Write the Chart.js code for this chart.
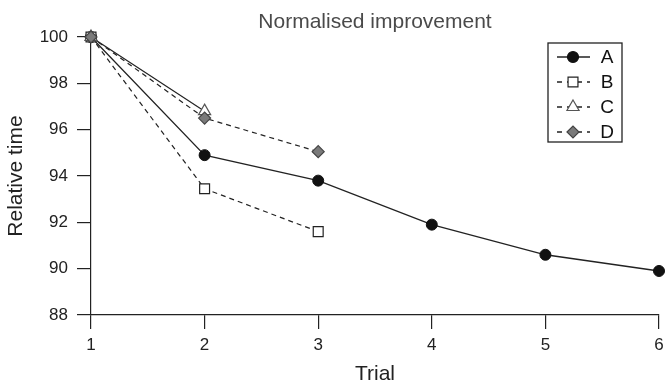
<!DOCTYPE html>
<html>
<head>
<meta charset="utf-8">
<script src="https://cdn.jsdelivr.net/npm/chart.js@4.4.0/dist/chart.umd.min.js"></script>
<style>
  body { margin: 0; background: #fff; }
  #wrap { width: 665px; height: 385px; }
</style>
</head>
<body>
<div id="wrap"><canvas id="myChart"></canvas></div>
<script>
const chartTitle = 'Normalised improvement';
const trials = [1, 2, 3, 4, 5, 6];
const seriesNames = ['A', 'B', 'C', 'D'];
const valuesA = [100, 94.9, 93.8, 91.9, 90.6, 89.9];
const valuesB = [100, 93.45, 91.6];
const valuesC = [100, 96.8];
const valuesD = [100, 96.5, 95.05];
const yTicks = [88, 90, 92, 94, 96, 98, 100];

const ink = '#222';
const FONT = "'Liberation Sans', Arial, sans-serif";

function toPoints(vals) {
  return vals.map((v, i) => ({ x: trials[i], y: v }));
}

// Title centred over the plot area (not the whole canvas)
const plotTitle = {
  id: 'plotTitle',
  afterDraw(chart) {
    const ctx = chart.ctx;
    const area = chart.chartArea;
    ctx.save();
    ctx.fillStyle = '#4a4a4a';
    ctx.font = '21px ' + FONT;
    ctx.textAlign = 'center';
    ctx.textBaseline = 'middle';
    ctx.fillText(chartTitle, (area.left + area.right) / 2, 22);
    ctx.restore();
  }
};

// Legend box: line + marker + letter, top right of the plot
const boxLegend = {
  id: 'boxLegend',
  afterDraw(chart) {
    const ctx = chart.ctx;
    const area = chart.chartArea;
    const left = area.right - 111, top = area.top + 6;
    ctx.save();
    ctx.strokeStyle = ink;
    ctx.lineWidth = 1.3;
    ctx.strokeRect(left, top, 74, 99);
    chart.data.datasets.forEach((ds, i) => {
      const y = top + 14 + i * 25;
      ctx.beginPath();
      ctx.strokeStyle = ink;
      ctx.lineWidth = 1.3;
      ctx.setLineDash(ds.legendDash);
      ctx.moveTo(left + 9, y);
      ctx.lineTo(left + 42, y);
      ctx.stroke();
      ctx.setLineDash([]);
      ctx.fillStyle = ds.pointBackgroundColor;
      ctx.strokeStyle = ds.pointBorderColor;
      ctx.lineWidth = 1.2;
      Chart.helpers.drawPoint(ctx, {
        pointStyle: ds.pointStyle,
        radius: ds.pointRadius,
        borderWidth: 1.2,
        rotation: 0
      }, left + 25, y);
      ctx.fillStyle = '#111';
      ctx.font = '19px ' + FONT;
      ctx.textBaseline = 'middle';
      ctx.textAlign = 'center';
      ctx.fillText(ds.label, left + 59, y + 1);
    });
    ctx.restore();
  }
};

const ctx = document.getElementById('myChart');

const myChart = new Chart(ctx, {
  type: 'line',
  data: {
    datasets: [
      {
        label: seriesNames[0],
        data: toPoints(valuesA),
        borderColor: ink, borderWidth: 1.3, borderDash: [], legendDash: [],
        pointStyle: 'circle', pointRadius: 5.5,
        pointBackgroundColor: '#111', pointBorderColor: '#111', pointBorderWidth: 1,
        clip: false, order: 4
      },
      {
        label: seriesNames[1],
        data: toPoints(valuesB),
        borderColor: ink, borderWidth: 1.2, borderDash: [5, 4], legendDash: [5, 5],
        pointStyle: 'rect', pointRadius: 7,
        pointBackgroundColor: '#fff', pointBorderColor: '#222', pointBorderWidth: 1.2,
        clip: false, order: 3
      },
      {
        label: seriesNames[2],
        data: toPoints(valuesC),
        borderColor: ink, borderWidth: 1.2, borderDash: [], legendDash: [5, 5],
        pointStyle: 'triangle', pointRadius: 7,
        pointBackgroundColor: '#fff', pointBorderColor: '#555', pointBorderWidth: 1.2,
        clip: false, order: 2
      },
      {
        label: seriesNames[3],
        data: toPoints(valuesD),
        borderColor: ink, borderWidth: 1.2, borderDash: [5, 4], legendDash: [5, 5],
        pointStyle: 'rectRot', pointRadius: 6,
        pointBackgroundColor: '#7a7a7a', pointBorderColor: '#444', pointBorderWidth: 1.2,
        clip: false, order: 1
      }
    ]
  },
  options: {
    responsive: true,
    maintainAspectRatio: false,
    animation: false,
    layout: { autoPadding: false, padding: { left: 0, right: 0, top: 37, bottom: 0 } },
    plugins: {
      legend: { display: false },
      tooltip: { enabled: false },
      title: { display: false }
    },
    scales: {
      x: {
        type: 'linear',
        min: 1, max: 6,
        afterFit(axis) { axis.height = 70; axis.paddingRight = 6; axis.paddingLeft = 0; },
        border: { color: ink, width: 1.2 },
        grid: { drawOnChartArea: false, drawTicks: true, tickLength: 14, color: ink, lineWidth: 1.2 },
        ticks: { stepSize: 1, color: ink, font: { family: FONT, size: 17 }, padding: 6, maxRotation: 0 },
        title: { display: true, text: 'Trial', color: ink, font: { family: FONT, size: 21, lineHeight: 1 }, padding: { top: 0, bottom: 0 } }
      },
      y: {
        min: 88, max: 100,
        afterBuildTicks(axis) { axis.ticks = yTicks.map(v => ({ value: v })); },
        afterFit(axis) { axis.width = 91; axis.paddingTop = 0; },
        border: { color: ink, width: 1.2 },
        grid: { drawOnChartArea: false, drawTicks: true, tickLength: 14, color: ink, lineWidth: 1.2 },
        ticks: { color: ink, font: { family: FONT, size: 17 }, padding: 9 },
        title: { display: true, text: 'Relative time', color: ink, font: { family: FONT, size: 21, lineHeight: 1.2 }, padding: { top: 4, bottom: 0 } }
      }
    }
  },
  plugins: [plotTitle, boxLegend]
});
</script>
</body>
</html>
